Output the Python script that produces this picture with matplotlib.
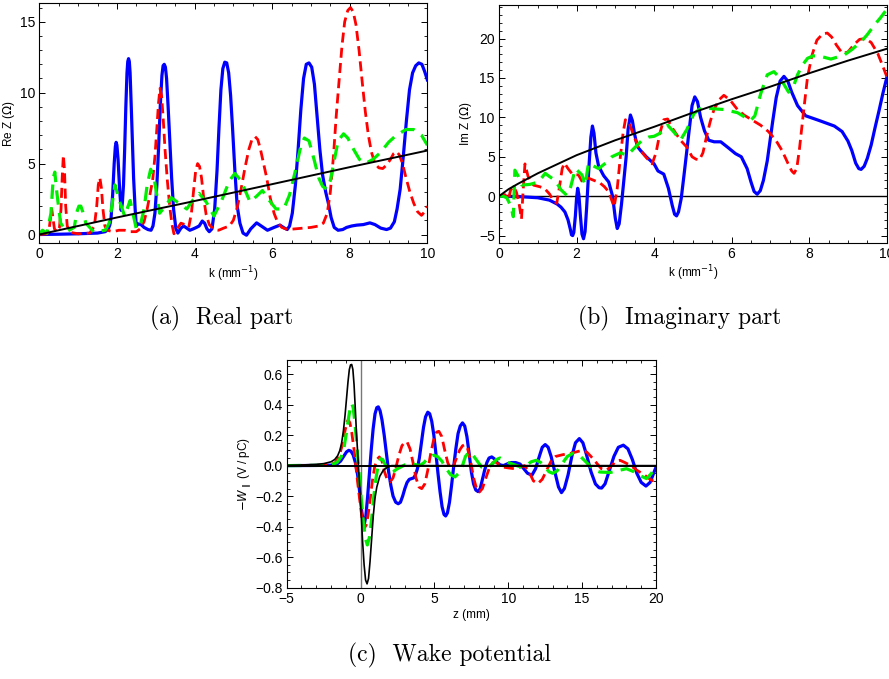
import numpy as np
import matplotlib
matplotlib.use("Agg")
import matplotlib.pyplot as plt
from matplotlib.ticker import MultipleLocator, FuncFormatter

plt.rcParams['font.family'] = ['Liberation Sans', 'DejaVu Sans']
plt.rcParams['mathtext.fontset'] = 'dejavusans'

# ---- (a) real part of impedance ----
k_re_blue = [0, 0.5, 1.0, 1.5, 1.7, 1.78, 1.82, 1.85, 1.89, 1.93, 1.96, 1.98, 2.00, 2.03, 2.07, 2.11,
             2.14, 2.17, 2.20, 2.23, 2.26, 2.28, 2.30, 2.32, 2.34, 2.37, 2.40, 2.43, 2.47, 2.50,
             2.55, 2.62, 2.70, 2.80, 2.88, 2.93, 2.98, 3.03, 3.08, 3.12, 3.16, 3.19, 3.22, 3.25,
             3.28, 3.32, 3.36, 3.41, 3.46, 3.52, 3.57, 3.65, 3.72, 3.80, 3.88, 3.97, 4.05, 4.12,
             4.20, 4.26, 4.32, 4.38, 4.45, 4.52, 4.58, 4.63, 4.68, 4.73, 4.78, 4.83, 4.88, 4.93,
             4.98, 5.04, 5.10, 5.17, 5.25, 5.34, 5.45, 5.60, 5.72, 5.88, 6.05, 6.20, 6.32, 6.39,
             6.45, 6.52, 6.60, 6.67, 6.74, 6.81, 6.88, 6.95, 7.02, 7.09, 7.16, 7.23, 7.30, 7.38,
             7.45, 7.52, 7.60, 7.70, 7.82, 7.92, 8.05, 8.18, 8.35, 8.52, 8.65, 8.80, 8.95, 9.05,
             9.15, 9.22, 9.30, 9.38, 9.46, 9.54, 9.62, 9.70, 9.78, 9.86, 9.93, 10.0]
re_blue = [0, 0.02, 0.05, 0.1, 0.2, 0.4, 0.7, 1.2, 2.8, 5.0, 6.2, 6.5, 6.3, 5.3, 3.2, 1.7,
           2.2, 3.5, 6.0, 9.0, 11.4, 12.2, 12.4, 12.2, 11.4, 9.0, 6.5, 4.0, 1.8, 0.6,
           0.75, 0.7, 0.5, 0.35, 0.3, 0.6, 1.5, 3.5, 6.5, 9.2, 11.2, 11.9, 12.0, 11.8,
           11.0, 9.0, 6.8, 4.0, 1.8, 0.4, 0.1, 0.45, 0.6, 0.45, 0.3, 0.4, 0.5, 0.6,
           0.95, 0.8, 0.4, 0.2, 0.4, 1.8, 4.5, 7.5, 10.2, 11.7, 12.15, 12.1, 11.4, 9.8,
           7.5, 4.5, 2.0, 0.8, 0.1, -0.05, 0.4, 0.82, 0.6, 0.3, 0.5, 0.66, 0.45, 0.35,
           0.6, 1.5, 3.5, 6.0, 8.8, 11.0, 12.0, 12.1, 11.8, 10.6, 8.3, 6.0, 4.2, 3.0,
           2.2, 1.2, 0.5, 0.3, 0.35, 0.5, 0.6, 0.66, 0.7, 0.82, 0.7, 0.45, 0.35, 0.45,
           0.9, 1.8, 3.2, 5.5, 8.0, 10.2, 11.4, 11.9, 12.1, 12.0, 11.5, 10.9]

k_re_red = [0, 0.2, 0.25, 0.29, 0.32, 0.35, 0.39, 0.45, 0.52, 0.56, 0.59, 0.62, 0.65, 0.68, 0.72, 0.8,
            1.0, 1.3, 1.42, 1.48, 1.52, 1.56, 1.6, 1.64, 1.69, 1.75, 1.9, 2.05, 2.2, 2.35, 2.5,
            2.6, 2.7, 2.78, 2.85, 2.92, 2.98, 3.03, 3.07, 3.11, 3.15, 3.19, 3.24, 3.3, 3.36,
            3.42, 3.47, 3.55, 3.65, 3.75, 3.85, 3.92, 3.98, 4.03, 4.08, 4.13, 4.18, 4.24, 4.3,
            4.38, 4.5, 4.62, 4.75, 4.9, 5.0, 5.1, 5.2, 5.3, 5.4, 5.48, 5.56, 5.63, 5.7, 5.78,
            5.86, 5.95, 6.05, 6.15, 6.25, 6.4, 6.6, 6.8, 7.0, 7.2, 7.32, 7.42, 7.5, 7.58, 7.65,
            7.73, 7.8, 7.87, 7.95, 8.02, 8.09, 8.16, 8.24, 8.32, 8.4, 8.48, 8.56, 8.65, 8.75,
            8.85, 8.95, 9.05, 9.13, 9.21, 9.28, 9.36, 9.45, 9.55, 9.65, 9.75, 9.85, 9.93, 10.0]
re_red = [0, 0.05, 0.3, 1.2, 1.8, 1.2, 0.4, 0.2, 0.5, 1.8, 4.0, 5.6, 4.5, 2.0, 0.6, 0.15,
          0.05, 0.1, 0.6, 2.0, 3.5, 4.0, 3.3, 1.8, 0.6, 0.3, 0.2, 0.3, 0.3, 0.2, 0.2,
          0.4, 0.9, 1.8, 2.8, 3.8, 5.5, 7.5, 9.2, 10.3, 9.8, 8.3, 6.0, 3.8, 2.0,
          0.7, 0.05, 0.4, 0.8, 0.7, 0.5, 1.5, 3.2, 4.5, 5.0, 4.8, 4.0, 2.5, 1.4,
          0.7, 0.35, 0.3, 0.45, 0.6, 1.0, 1.9, 3.2, 4.7, 6.0, 6.7, 6.9, 6.7, 6.0, 5.0,
          4.0, 2.6, 1.5, 0.8, 0.5, 0.35, 0.4, 0.45, 0.5, 0.6, 0.8, 1.5, 3.0, 5.5, 8.3,
          11.0, 13.3, 15.0, 15.8, 16.0, 15.7, 14.8, 13.0, 10.8, 8.7, 7.0, 5.8, 5.0, 4.7,
          4.65, 4.9, 5.3, 5.7, 5.85, 5.6, 5.0, 4.0, 3.0, 2.2, 1.6, 1.35, 1.6, 2.0]

k_re_green = [0, 0.08, 0.2, 0.3, 0.36, 0.4, 0.45, 0.55, 0.7, 0.9, 0.97, 1.02, 1.07, 1.12, 1.2, 1.4,
              1.7, 1.8, 1.88, 1.95, 2.05, 2.2, 2.34, 2.5, 2.6, 2.7, 2.78, 2.87, 2.97, 3.1, 3.25,
              3.4, 3.6, 3.8, 3.95, 4.12, 4.3, 4.5, 4.7, 4.9, 5.04, 5.2, 5.43, 5.6, 5.75, 5.9, 6.1,
              6.3, 6.45, 6.6, 6.72, 6.83, 6.95, 7.08, 7.2, 7.3, 7.4, 7.5, 7.6, 7.7, 7.84, 7.95,
              8.1, 8.25, 8.4, 8.6, 8.8, 9.0, 9.2, 9.45, 9.65, 9.85, 10.0]
re_green = [0, 0.3, 0.1, 1.5, 4.0, 4.4, 3.0, 0.8, 0.2, 0.5, 1.6, 2.0, 2.0, 1.6, 0.8, 0.2,
            0.3, 0.8, 2.2, 3.5, 2.5, 1.3, 2.4, 0.4, 0.6, 1.8, 3.5, 4.6, 3.8, 1.5, 2.0,
            2.6, 2.2, 1.8, 2.4, 2.9, 2.3, 1.3, 2.4, 3.8, 4.3, 3.8, 2.3, 2.7, 3.1, 2.5, 1.8,
            1.8, 2.8, 4.5, 6.0, 6.8, 6.6, 5.3, 4.0, 3.4, 3.2, 3.8, 5.2, 6.6, 7.1, 6.8,
            6.0, 5.3, 5.0, 5.3, 5.8, 6.5, 7.0, 7.4, 7.4, 7.0, 6.3]

k_re_black = [0, 2, 4, 6, 8, 10]
re_black = [0, 1.2, 2.36, 3.55, 4.75, 5.92]

# ---- (b) imaginary part ----
k_im_blue = [0, 0.5, 1.0, 1.3, 1.5, 1.6, 1.7, 1.78, 1.84, 1.87, 1.90, 1.93, 1.97, 2.00, 2.03, 2.06,
             2.10, 2.14, 2.18, 2.22, 2.26, 2.30, 2.33, 2.37, 2.41, 2.45, 2.50, 2.57, 2.70, 2.83,
             2.93, 3.00, 3.05, 3.10, 3.16, 3.22, 3.28, 3.33, 3.39, 3.44, 3.50, 3.57, 3.65, 3.80,
             4.00, 4.10, 4.25, 4.37, 4.47, 4.53, 4.58, 4.63, 4.70, 4.78, 4.85, 4.92, 4.98, 5.05,
             5.12, 5.20, 5.30, 5.41, 5.55, 5.72, 5.90, 6.10, 6.25, 6.40, 6.50, 6.58, 6.66, 6.74,
             6.82, 6.92, 7.06, 7.15, 7.25, 7.35, 7.45, 7.55, 7.70, 7.91, 8.26, 8.65, 8.85, 9.00,
             9.10, 9.20, 9.28, 9.34, 9.42, 9.50, 9.60, 9.70, 9.80, 9.90, 10.0]
im_blue = [0, -0.05, -0.2, -0.5, -1.0, -1.4, -2.0, -3.0, -4.2, -4.9, -5.0, -4.6, -2.5, -0.3, 1.0, 0.2,
           -2.5, -4.8, -5.4, -4.5, -1.5, 2.0, 4.5, 7.5, 8.9, 8.0, 5.5, 3.8, 2.6, 1.8,
           0.0, -2.8, -4.1, -3.5, -1.0, 2.0, 5.0, 8.5, 10.3, 9.6, 7.8, 6.3, 5.8, 5.0,
           4.1, 3.2, 2.8, 1.0, -1.2, -2.3, -2.5, -2.0, -0.3, 3.0, 6.0, 9.0, 11.5, 12.6,
           12.0, 10.0, 8.3, 7.1, 6.9, 6.9, 6.2, 5.4, 5.0, 3.5, 1.8, 0.6, 0.25, 0.7,
           2.0, 4.5, 9.5, 12.5, 14.6, 15.2, 14.6, 13.2, 11.5, 10.2, 9.6, 8.9, 8.2, 7.0,
           5.8, 4.2, 3.5, 3.4, 3.8, 4.8, 6.5, 8.7, 10.8, 13.0, 15.0]

k_im_red = [0, 0.15, 0.24, 0.3, 0.38, 0.45, 0.52, 0.58, 0.62, 0.67, 0.75, 0.89, 1.05, 1.17, 1.3,
            1.4, 1.49, 1.57, 1.63, 1.69, 1.78, 1.9, 2.05, 2.15, 2.3, 2.45, 2.6, 2.72, 2.83, 2.97,
            3.05, 3.13, 3.2, 3.26, 3.35, 3.45, 3.6, 3.8, 3.95, 4.05, 4.15, 4.25, 4.35, 4.45, 4.68,
            4.85, 4.98, 5.08, 5.17, 5.26, 5.35, 5.45, 5.54, 5.67, 5.8, 5.96, 6.15, 6.32, 6.55,
            6.75, 6.95, 7.14, 7.3, 7.45, 7.55, 7.61, 7.68, 7.75, 7.85, 7.96, 8.08, 8.2, 8.35,
            8.47, 8.58, 8.7, 8.86, 9.0, 9.15, 9.3, 9.45, 9.6, 9.77, 9.9, 10.0]
im_red = [0, 0.2, -0.5, 0.8, 1.2, 0.5, -1.0, -2.9, 0.5, 4.1, 2.5, 1.4, 1.2, 1.0, 0.3,
          -0.5, -0.9, 1.5, 3.5, 4.2, 3.5, 2.75, 2.7, 1.8, 2.3, 2.0, 1.7, 1.2, 0.55, -1.36,
          1.0, 5.0, 8.0, 9.7, 9.4, 8.0, 6.1, 4.9, 4.1, 5.5, 8.0, 9.7, 9.8, 8.8, 7.1,
          6.2, 5.0, 4.7, 4.6, 5.5, 7.5, 9.5, 10.9, 12.2, 12.8, 12.2, 11.0, 10.3, 9.6,
          9.0, 8.2, 7.1, 5.8, 4.2, 3.2, 2.9, 3.5, 6.0, 10.5, 15.2, 18.0, 19.8, 20.6,
          20.7, 20.2, 19.2, 18.1, 18.3, 19.2, 19.9, 20.0, 19.5, 18.1, 16.5, 15.2]

k_im_green = [0, 0.1, 0.2, 0.3, 0.37, 0.41, 0.5, 0.59, 0.8, 1.02, 1.19, 1.3, 1.45, 1.6, 1.75, 1.85,
              1.97, 2.14, 2.22, 2.31, 2.45, 2.57, 2.75, 2.91, 3.13, 3.3, 3.43, 3.69, 3.86, 4.0,
              4.16, 4.35, 4.5, 4.68, 4.85, 5.03, 5.25, 5.5, 5.8, 6.15, 6.49, 6.6, 6.75, 6.92, 7.09,
              7.25, 7.47, 7.6, 7.7, 7.82, 7.96, 8.1, 8.25, 8.56, 8.9, 9.1, 9.34, 9.5, 9.68, 9.85,
              10.0]
im_green = [0, 0.0, -0.2, -1.2, -2.6, 3.3, 2.5, 1.4, 1.5, 1.8, 2.9, 2.5, 2.0, 0.8, 0.1, 1.2,
            3.5, 2.7, 1.4, 4.2, 3.8, 3.5, 4.2, 5.0, 5.5, 5.2, 5.8, 7.1, 7.5, 7.6,
            8.0, 9.0, 8.2, 7.1, 8.5, 10.5, 11.3, 11.1, 11.0, 10.6, 9.6, 10.2, 13.0, 15.4, 15.8,
            15.0, 13.2, 14.0, 15.4, 16.6, 17.5, 17.8, 17.8, 17.4, 17.9, 18.6, 19.6, 20.5, 21.7, 22.7,
            23.7]

k_im_black = [0, 0.25, 0.5, 1, 2, 3, 4, 5, 6, 7, 8, 9, 10]
im_black = [0, 0.9, 1.6, 2.9, 5.2, 7.1, 8.8, 10.6, 12.3, 13.9, 15.6, 17.2, 18.7]

# ---- (c) wake potential ----
z_black = [-5, -4, -3, -2.5, -2, -1.75, -1.55, -1.4, -1.28, -1.16, -1.05, -0.95, -0.85, -0.76, -0.68,
           -0.6, -0.52, -0.44, -0.36, -0.28, -0.2, -0.12, -0.04, 0.05, 0.14, 0.24, 0.34, 0.44, 0.54,
           0.64, 0.75, 0.86, 0.98, 1.1, 1.3, 1.54, 1.8, 2.1, 20]
w_black = [0.002, 0.004, 0.008, 0.013, 0.025, 0.04, 0.065, 0.1, 0.15, 0.23, 0.33, 0.44, 0.55, 0.63, 0.66,
           0.663, 0.63, 0.53, 0.38, 0.22, 0.09, -0.04, -0.17, -0.33, -0.5, -0.65, -0.75, -0.775, -0.74,
           -0.63, -0.48, -0.33, -0.21, -0.14, -0.07, -0.03, -0.012, 0.0, 0.0]

z_blue = [-5, -3, -2, -1.6, -1.35, -1.15, -0.95, -0.8, -0.65, -0.5, -0.35, -0.2, -0.05, 0.08, 0.18,
          0.26, 0.36, 0.48, 0.6, 0.72, 0.85, 0.98, 1.1, 1.2, 1.32, 1.45, 1.6, 1.75, 1.9, 2.05, 2.2,
          2.38, 2.55, 2.7, 2.85, 3.0, 3.15, 3.3, 3.45, 3.6, 3.72, 3.85, 3.98, 4.12, 4.26, 4.4,
          4.55, 4.68, 4.82, 4.96, 5.1, 5.24, 5.38, 5.52, 5.65, 5.76, 5.88, 6.02, 6.16, 6.3, 6.45,
          6.6, 6.75, 6.9, 7.05, 7.2, 7.35, 7.5, 7.65, 7.8, 7.95, 8.1, 8.25, 8.4, 8.55, 8.7, 8.88,
          9.05, 9.25, 9.45, 9.67, 9.9, 10.2, 10.5, 10.8, 11.05, 11.3, 11.6, 11.85, 12.1, 12.3,
          12.5, 12.7, 12.9, 13.15, 13.4, 13.6, 13.8, 14.05, 14.3, 14.55, 14.81, 15.05, 15.3, 15.6,
          15.9, 16.15, 16.32, 16.55, 16.85, 17.15, 17.45, 17.79, 18.1, 18.4, 18.7, 19.0, 19.32,
          19.6, 19.8, 20]
w_blue = [0, 0.001, 0.003, 0.01, 0.03, 0.06, 0.09, 0.10, 0.095, 0.07, 0.02, -0.06, -0.18, -0.3, -0.37,
          -0.38, -0.33, -0.2, -0.05, 0.1, 0.24, 0.34, 0.38, 0.385, 0.36, 0.3, 0.2, 0.08, -0.04, -0.13, -0.2,
          -0.24, -0.25, -0.24, -0.2, -0.15, -0.11, -0.09, -0.085, -0.08, -0.06, -0.02, 0.05, 0.15, 0.25, 0.32,
          0.35, 0.34, 0.29, 0.2, 0.08, -0.05, -0.17, -0.27, -0.32, -0.33, -0.31, -0.24, -0.13, -0.01, 0.11,
          0.21, 0.26, 0.28, 0.26, 0.19, 0.08, -0.04, -0.12, -0.16, -0.17, -0.15, -0.09, -0.03, 0.02, 0.05, 0.057,
          0.045, 0.02, 0.005, 0.0, 0.01, 0.02, 0.02, 0.01, -0.02, -0.05, -0.063, -0.02, 0.06, 0.12,
          0.138, 0.12, 0.06, -0.04, -0.14, -0.177, -0.15, -0.06, 0.06, 0.15, 0.177, 0.15, 0.07, -0.04,
          -0.12, -0.145, -0.147, -0.12, -0.03, 0.06, 0.12, 0.134, 0.11, 0.04, -0.05, -0.11, -0.134,
          -0.11, -0.06, -0.01]

z_red = [-5, -2.5, -2, -1.7, -1.45, -1.25, -1.05, -0.9, -0.83, -0.72, -0.6, -0.45, -0.3, -0.15, 0.0,
         0.12, 0.25, 0.38, 0.5, 0.65, 0.8, 0.95, 1.1, 1.27, 1.45, 1.62, 1.8, 2.0, 2.2, 2.4, 2.6,
         2.8, 3.0, 3.15, 3.35, 3.55, 3.75, 3.95, 4.14, 4.35, 4.55, 4.75, 4.95, 5.15, 5.3, 5.5,
         5.7, 5.9, 6.1, 6.3, 6.5, 6.7, 6.9, 7.07, 7.25, 7.45, 7.65, 7.85, 8.05, 8.25, 8.45, 8.7,
         8.95, 9.15, 9.4, 9.67, 10.0, 10.4, 10.8, 11.1, 11.4, 11.7, 12.0, 12.3, 12.6, 12.9, 13.2,
         13.7, 14.2, 14.6, 15.0, 15.3, 15.6, 15.95, 16.3, 16.66, 17.0, 17.3, 17.56, 17.9, 18.3,
         18.7, 19.2, 19.6, 20]
w_red = [0, 0.003, 0.008, 0.02, 0.06, 0.13, 0.23, 0.29, 0.30, 0.28, 0.22, 0.11, -0.02, -0.15, -0.27,
         -0.36, -0.41, -0.39, -0.33, -0.22, -0.1, -0.01, 0.04, 0.057, 0.03, -0.04, -0.09, -0.107, -0.08, -0.01, 0.07,
         0.13, 0.155, 0.155, 0.11, 0.02, -0.08, -0.14, -0.151, -0.12, -0.03, 0.08, 0.17, 0.22, 0.225, 0.19,
         0.1, 0.02, -0.02, 0.0, 0.05, 0.1, 0.13, 0.138, 0.11, 0.03, -0.08, -0.15, -0.173, -0.15, -0.09, -0.02,
         0.02, 0.024, 0.005, -0.01, -0.015, -0.02, -0.01, 0.0, -0.04, -0.1, -0.118, -0.09, -0.03, 0.03, 0.06,
         0.072, 0.08, 0.09, 0.1, 0.09, 0.06, 0.02, -0.02, -0.03, 0.0, 0.03, 0.035, 0.02, 0.0,
         -0.03, -0.06, -0.09, -0.11]

z_green = [-5, -2.5, -2, -1.6, -1.3, -1.1, -0.95, -0.8, -0.68, -0.6, -0.5, -0.38, -0.25, -0.1, 0.05,
           0.2, 0.33, 0.46, 0.6, 0.75, 0.9, 1.05, 1.2, 1.35, 1.5, 1.7, 1.85, 2.0, 2.2, 2.5, 3.0,
           3.57, 4.0, 4.3, 4.6, 4.93, 5.2, 5.5, 5.8, 6.1, 6.39, 6.65, 6.9, 7.1, 7.35, 7.6, 7.9,
           8.2, 8.54, 8.9, 9.2, 9.44, 9.7, 10.0, 10.57, 10.9, 11.2, 11.55, 11.9, 12.2, 12.5, 12.75,
           13.0, 13.3, 13.7, 14.0, 14.36, 14.8, 15.15, 15.5, 15.85, 16.2, 16.9, 17.56, 18.0, 18.5,
           18.9, 19.36, 19.7, 20]
w_green = [0, 0.002, 0.006, 0.02, 0.06, 0.13, 0.22, 0.32, 0.39, 0.407, 0.38, 0.28, 0.13, -0.05, -0.22,
           -0.38, -0.48, -0.52, -0.47, -0.35, -0.2, -0.08, 0.01, 0.045, 0.04, 0.0, -0.035, -0.046, -0.04, -0.02, 0.005,
           0.01, 0.0, 0.02, 0.055, 0.068, 0.06, 0.03, -0.02, -0.06, -0.074, -0.05, 0.0, 0.06, 0.09, 0.07, 0.03,
           -0.01, -0.02, 0.01, 0.04, 0.05, 0.035, 0.02, 0.0, -0.01, 0.0, 0.025, 0.035, 0.02, -0.01, -0.04,
           -0.05, -0.035, 0.02, 0.06, 0.08, 0.068, 0.035, 0.0, -0.03, -0.042, -0.045, -0.03, -0.02, -0.04,
           -0.065, -0.085, -0.05, 0.0]

BLUE = '#0000ff'
RED = '#ff0000'
GREEN = '#00ee00'


def minus(fmt):
    return FuncFormatter(lambda v, p: (fmt % v).replace('-', '\u2212'))


def style_axes(ax):
    ax.tick_params(which='both', direction='in', top=True, right=True, labelsize=10, pad=3)
    ax.tick_params(which='major', length=4, width=0.7)
    ax.tick_params(which='minor', length=2, width=0.6)
    for s in ax.spines.values():
        s.set_linewidth(0.8)


def draw_curves(ax, blue, red, green):
    ax.plot(*blue, color=BLUE, lw=2.3, solid_joinstyle='round')
    ax.plot(*red, color=RED, lw=2.0, dashes=(3.6, 1.9))
    ax.plot(*green, color=GREEN, lw=2.3, dashes=(4.5, 2.6))


fig = plt.figure(figsize=(8.89, 6.79), dpi=100)

# (a)
ax1 = fig.add_axes([0.0442, 0.6421, 0.4365, 0.353])
draw_curves(ax1, (k_re_blue, re_blue), (k_re_red, re_red), (k_re_green, re_green))
ax1.plot(k_re_black, re_black, color='black', lw=1.4)
ax1.set_xlim(0, 10)
ax1.set_ylim(-0.6, 16.3)
ax1.xaxis.set_major_locator(MultipleLocator(2))
ax1.xaxis.set_minor_locator(MultipleLocator(0.5))
ax1.yaxis.set_major_locator(MultipleLocator(5))
ax1.yaxis.set_minor_locator(MultipleLocator(1))
ax1.set_xlabel('k (mm$^{-1}$)', fontsize=8.5, labelpad=2)
ax1.set_ylabel('Re Z ($\\Omega$)', fontsize=8.5)
ax1.yaxis.set_label_coords(-0.058, 0.5)
style_axes(ax1)

# (b)
ax2 = fig.add_axes([0.5613, 0.6426, 0.4361, 0.3505])
ax2.axhline(0, color='black', lw=1.0)
draw_curves(ax2, (k_im_blue, im_blue), (k_im_red, im_red), (k_im_green, im_green))
ax2.plot(k_im_black, im_black, color='black', lw=1.4)
ax2.set_xlim(0, 10)
ax2.set_ylim(-5.9, 24.3)
ax2.xaxis.set_major_locator(MultipleLocator(2))
ax2.xaxis.set_minor_locator(MultipleLocator(0.5))
ax2.yaxis.set_major_locator(MultipleLocator(5))
ax2.yaxis.set_minor_locator(MultipleLocator(1))
ax2.yaxis.set_major_formatter(minus('%d'))
ax2.set_xlabel('k (mm$^{-1}$)', fontsize=8.5, labelpad=2)
ax2.set_ylabel('Im Z ($\\Omega$)', fontsize=8.5)
ax2.yaxis.set_label_coords(-0.064, 0.5)
style_axes(ax2)

# (c)
ax3 = fig.add_axes([0.3225, 0.1345, 0.4154, 0.3357])
ax3.axvline(0, color='#777777', lw=1.0)
draw_curves(ax3, (z_blue, w_blue), (z_red, w_red), (z_green, w_green))
ax3.plot(z_black, w_black, color='black', lw=1.2)
ax3.axhline(0, color='black', lw=1.4)
ax3.set_xlim(-5, 20)
ax3.set_ylim(-0.8, 0.694)
ax3.xaxis.set_major_locator(MultipleLocator(5))
ax3.xaxis.set_minor_locator(MultipleLocator(1))
ax3.yaxis.set_major_locator(MultipleLocator(0.2))
ax3.yaxis.set_minor_locator(MultipleLocator(0.05))
ax3.xaxis.set_major_formatter(minus('%d'))
ax3.yaxis.set_major_formatter(minus('%.1f'))
ax3.set_xlabel('z (mm)', fontsize=8.5, labelpad=2)
ax3.set_ylabel('$-W_{\\parallel}$ (V / pC)', fontsize=8.5)
ax3.yaxis.set_label_coords(-0.091, 0.5)
style_axes(ax3)

# captions
cap = dict(ha='center', va='center', fontsize=17, family=['cmr10', 'DejaVu Serif'])
fig.text(0.2497, 1 - 318 / 679, '(a)  Real part', **cap)
fig.text(0.765, 1 - 318 / 679, '(b)  Imaginary part', **cap)
fig.text(0.506, 1 - 655 / 679, '(c)  Wake potential', **cap)

fig.savefig('out.png', dpi=100)
